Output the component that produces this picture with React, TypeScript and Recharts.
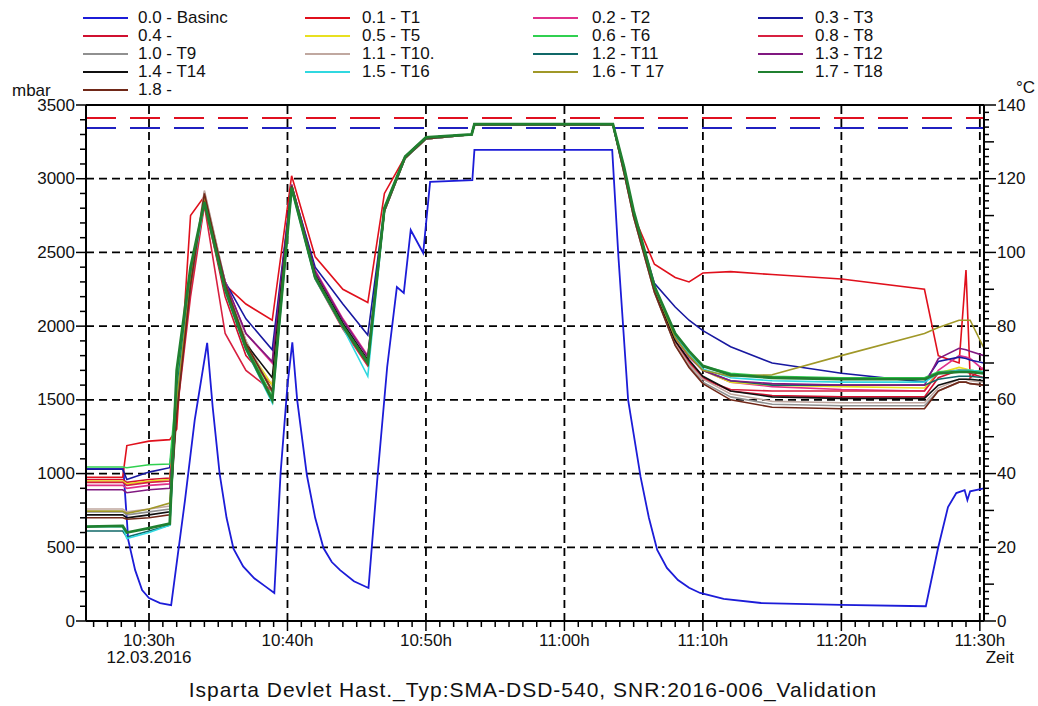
import { LineChart, Line, XAxis, YAxis, ReferenceLine } from "recharts";

// time in minutes after 10:00h
const TT = [25.45, 28.1, 28.4, 30.0, 31.5, 32.0, 33.0, 34.0, 35.5, 37.0, 38.9, 40.3, 42.0, 44.0, 45.8, 47.0, 48.5, 50.0, 53.3, 53.5, 63.5, 64.3, 65.0, 66.5, 68.0, 69.0, 70.0, 72.0, 75.0, 80.0, 86.0, 87.0, 88.5, 89.0, 89.3, 90.3];

// pressure has its own sample times
const P_T = [25.45, 28.15, 28.5, 29.0, 29.5, 30.0, 30.8, 31.6, 32.6, 33.3, 34.2, 34.6, 35.1, 35.6, 36.1, 36.8, 37.6, 38.4, 39.05, 39.5, 40.0, 40.35, 40.7, 41.4, 42.0, 42.6, 43.2, 43.8, 44.8, 45.85, 46.5, 47.2, 47.9, 48.4, 48.9, 49.8, 50.3, 53.35, 53.5, 63.45, 63.9, 64.6, 65.5, 66.1, 66.7, 67.4, 68.2, 69.0, 69.8, 71.5, 74.2, 80.0, 86.1, 87.0, 87.7, 88.3, 88.9, 89.1, 89.3, 90.3];
const BASINC = [1030, 1030, 550, 345, 210, 156, 122, 108, 820, 1363, 1886, 1450, 1000, 700, 490, 370, 290, 235, 190, 1000, 1600, 1890, 1500, 990, 700, 495, 400, 345, 270, 224, 977, 1723, 2265, 2225, 2652, 2496, 2978, 2990, 3195, 3195, 2469, 1499, 977, 700, 482, 360, 278, 225, 190, 150, 122, 110, 100, 502, 773, 868, 888, 820, 880, 900];

// temperatures, in mbar scale units (1 °C = 25 mbar)
const T1 = [975, 975, 1190, 1220, 1230, 1300, 2750, 2880, 2280, 2150, 2040, 3020, 2470, 2250, 2160, 2900, 3150, 3280, 3300, 3370, 3370, 3080, 2750, 2420, 2330, 2300, 2360, 2370, 2350, 2320, 2250, 1800, 1750, 2380, 1650, 1720];
const T2 = [920, 920, 900, 920, 930, 1500, 2300, 2860, 2300, 1950, 1750, 2960, 2380, 2050, 1800, 2780, 3140, 3270, 3300, 3365, 3365, 3060, 2760, 2260, 1920, 1790, 1700, 1620, 1590, 1570, 1560, 1700, 1800, 1790, 1780, 1700];
const T3 = [1030, 1030, 960, 1010, 1040, 1500, 2300, 2850, 2300, 2050, 1840, 2950, 2400, 2150, 1940, 2800, 3150, 3280, 3300, 3370, 3370, 3070, 2760, 2290, 2130, 2040, 1970, 1860, 1750, 1680, 1620, 1760, 1790, 1780, 1770, 1750];
const T4 = [960, 960, 940, 960, 970, 1450, 2250, 2840, 2200, 1800, 1600, 2940, 2330, 1990, 1740, 2780, 3140, 3270, 3300, 3365, 3365, 3050, 2750, 2250, 1900, 1760, 1650, 1560, 1530, 1520, 1520, 1650, 1700, 1690, 1680, 1650];
const T5 = [950, 950, 930, 950, 960, 1450, 2250, 2830, 2250, 1870, 1600, 2940, 2330, 2000, 1760, 2780, 3140, 3270, 3300, 3365, 3365, 3050, 2750, 2260, 1930, 1800, 1700, 1620, 1600, 1590, 1580, 1680, 1720, 1710, 1700, 1690];
const T6 = [1045, 1045, 1040, 1060, 1065, 1600, 2350, 2860, 2260, 1870, 1520, 2950, 2340, 2010, 1760, 2800, 3150, 3280, 3300, 3370, 3370, 3070, 2760, 2270, 1950, 1830, 1730, 1680, 1660, 1650, 1650, 1690, 1700, 1700, 1700, 1690];
const T8 = [940, 940, 920, 940, 950, 1400, 2200, 2820, 1950, 1700, 1560, 2950, 2320, 1980, 1730, 2790, 3140, 3270, 3300, 3365, 3365, 3050, 2750, 2240, 1880, 1750, 1640, 1570, 1560, 1560, 1560, 1680, 1700, 1700, 1690, 1680];
const T9 = [740, 740, 720, 740, 760, 1450, 2300, 2910, 2300, 1900, 1550, 2960, 2340, 2000, 1760, 2780, 3140, 3270, 3300, 3365, 3365, 3040, 2740, 2230, 1870, 1730, 1620, 1520, 1470, 1460, 1460, 1560, 1620, 1620, 1610, 1600];
const T10 = [760, 760, 740, 760, 780, 1450, 2300, 2920, 2300, 1900, 1560, 2960, 2340, 2000, 1760, 2780, 3140, 3270, 3300, 3365, 3365, 3040, 2740, 2230, 1880, 1740, 1640, 1540, 1490, 1480, 1480, 1580, 1640, 1640, 1630, 1620];
const T11 = [610, 610, 570, 610, 650, 1550, 2350, 2850, 2250, 1860, 1490, 2940, 2330, 2000, 1750, 2790, 3150, 3280, 3300, 3370, 3370, 3060, 2760, 2260, 1930, 1800, 1700, 1630, 1600, 1600, 1600, 1640, 1660, 1660, 1660, 1650];
const T12 = [890, 890, 870, 890, 900, 1450, 2280, 2860, 2300, 1950, 1760, 2960, 2370, 2040, 1790, 2790, 3150, 3280, 3300, 3370, 3370, 3060, 2760, 2260, 1930, 1800, 1700, 1630, 1610, 1600, 1600, 1780, 1850, 1840, 1830, 1800];
const T14 = [720, 720, 700, 720, 740, 1450, 2300, 2870, 2280, 1880, 1650, 2950, 2350, 2020, 1770, 2790, 3150, 3280, 3300, 3370, 3370, 3060, 2760, 2250, 1900, 1770, 1660, 1560, 1520, 1510, 1510, 1600, 1640, 1640, 1640, 1630];
const T16 = [640, 640, 560, 600, 650, 1500, 2300, 2840, 2240, 1840, 1480, 2930, 2320, 1990, 1660, 2780, 3140, 3270, 3300, 3365, 3365, 3050, 2760, 2260, 1940, 1810, 1710, 1650, 1630, 1620, 1620, 1680, 1700, 1700, 1700, 1690];
const T17 = [745, 745, 730, 760, 800, 1500, 2300, 2880, 2280, 1880, 1560, 2950, 2340, 2000, 1760, 2790, 3150, 3280, 3300, 3370, 3370, 3060, 2760, 2260, 1920, 1800, 1700, 1660, 1670, 1800, 1950, 1990, 2040, 2040, 2040, 1850];
const T18 = [640, 645, 600, 630, 660, 1700, 2400, 2840, 2250, 1850, 1500, 2940, 2330, 2000, 1750, 2800, 3150, 3280, 3300, 3370, 3370, 3080, 2780, 2270, 1950, 1830, 1730, 1670, 1650, 1640, 1640, 1680, 1690, 1690, 1690, 1680];
const T19 = [700, 700, 690, 700, 720, 1400, 2280, 2900, 2280, 1880, 1560, 2950, 2340, 2000, 1760, 2780, 3140, 3270, 3300, 3365, 3365, 3040, 2740, 2230, 1870, 1720, 1610, 1500, 1450, 1440, 1440, 1560, 1620, 1620, 1610, 1600];

const NAMES = ["0.0 - Basinc", "0.1 - T1", "0.2 - T2", "0.3 - T3", "0.4 -", "0.5 - T5", "0.6 - T6", "0.8 - T8", "1.0 - T9", "1.1 - T10.", "1.2 - T11", "1.3 - T12", "1.4 - T14", "1.5 - T16", "1.6 - T 17", "1.7 - T18", "1.8 -"];
const COLORS = ["#1c1cd8", "#e0101c", "#e0308c", "#1818a0", "#d01030", "#e8e020", "#30d050", "#d82040", "#909090", "#c0a8a0", "#106868", "#801880", "#101010", "#30d8e0", "#a09828", "#208030", "#702818"];
const TEMPS = [T1, T2, T3, T4, T5, T6, T8, T9, T10, T11, T12, T14, T16, T17, T18, T19];

const LIMIT_RED = 3412;
const LIMIT_BLUE = 3344;

const X_MAJOR = [30, 40, 50, 60, 70, 80, 90];
const X_TICKS = Array.from({ length: 65 }, (_, i) => 26 + i);
const Y_MAJOR = [500, 1000, 1500, 2000, 2500, 3000];
const Y_TICKS = Array.from({ length: 36 }, (_, i) => i * 100);
const C_TICKS = Array.from({ length: 71 }, (_, i) => i * 2);

const FONT = "'Liberation Sans', Arial, sans-serif";

const toData = (ts: number[], vs: number[]) => ts.map((t, i) => ({ t, v: vs[i] }));

const timeLabel = (m: number) => {
  const h = 10 + Math.floor(m / 60);
  const mm = m % 60;
  return `${h}:${mm < 10 ? "0" + mm : mm}h`;
};

function XTick(props: any) {
  const { x, y, payload } = props;
  const v = payload.value;
  const major = v % 10 === 0;
  return (
    <g>
      <line x1={x} x2={x} y1={y} y2={y + (major ? 10 : 6)} stroke="#000" strokeWidth={1.5} />
      {major && (
        <text x={x} y={y + 19} textAnchor="middle" dominantBaseline="central" fontSize={17} fontFamily={FONT} fill="#111">
          {timeLabel(v)}
        </text>
      )}
      {v === 30 && (
        <text x={x} y={y + 36} textAnchor="middle" dominantBaseline="central" fontSize={17} fontFamily={FONT} fill="#111">
          12.03.2016
        </text>
      )}
      {v === 90 && (
        <text x={x + 20} y={y + 36} textAnchor="middle" dominantBaseline="central" fontSize={17} fontFamily={FONT} fill="#111">
          Zeit
        </text>
      )}
    </g>
  );
}

function YTickLeft(props: any) {
  const { x, y, payload } = props;
  const v = payload.value;
  const major = v % 500 === 0;
  return (
    <g>
      <line x1={x - (major ? 10 : 6)} x2={x + 1} y1={y} y2={y} stroke="#000" strokeWidth={1.5} />
      {major && (
        <text x={x - 11} y={y} textAnchor="end" dominantBaseline="central" fontSize={17} fontFamily={FONT} fill="#111">
          {v}
        </text>
      )}
    </g>
  );
}

function YTickRight(props: any) {
  const { x, y, payload } = props;
  const v = payload.value;
  const len = v % 20 === 0 ? 12 : v % 10 === 0 ? 10 : 5;
  return (
    <g>
      <line x1={x} x2={x + len} y1={y} y2={y} stroke="#000" strokeWidth={1.5} />
      {v % 20 === 0 && (
        <text x={x + 13} y={y} textAnchor="start" dominantBaseline="central" fontSize={17} fontFamily={FONT} fill="#111">
          {v}
        </text>
      )}
    </g>
  );
}

const LEG_LINE_X = [83, 305, 533, 758];
const LEG_TEXT_X = [138, 362, 592, 815];
const LEG_ROW_Y = [18, 36, 54, 72, 90];

function Legend() {
  return (
    <>
      {NAMES.map((n, i) => {
        const c = i % 4;
        const r = Math.floor(i / 4);
        return (
          <div key={n}>
            <div style={{ position: "absolute", left: LEG_LINE_X[c], top: LEG_ROW_Y[r] - 1, width: 45, height: 2, background: COLORS[i] }} />
            <div style={{ position: "absolute", left: LEG_TEXT_X[c], top: LEG_ROW_Y[r] - 10, lineHeight: "20px", fontSize: 17, whiteSpace: "nowrap" }}>{n}</div>
          </div>
        );
      })}
    </>
  );
}

export default function App() {
  // dark green T18 drawn last, on top of the bundle
  const order = [0, 1, 2, 3, 4, 5, 6, 7, 8, 9, 10, 11, 12, 13, 15, 14];
  return (
    <div style={{ position: "absolute", left: 0, top: 0, width: 1038, height: 706, background: "#fff", fontFamily: FONT, color: "#111" }}>
      <LineChart width={1038} height={706} margin={{ top: 105, right: 0, bottom: 45, left: 0 }}>
        <XAxis
          type="number"
          dataKey="t"
          domain={[25.45, 90.3]}
          allowDataOverflow
          ticks={X_TICKS}
          interval={0}
          tick={XTick}
          tickLine={false}
          tickSize={0}
          tickMargin={0}
          axisLine={{ stroke: "#000", strokeWidth: 2 }}
          height={40}
        />
        <YAxis
          yAxisId="p"
          type="number"
          domain={[0, 3500]}
          allowDataOverflow
          ticks={Y_TICKS}
          interval={0}
          tick={YTickLeft}
          tickLine={false}
          tickSize={0}
          tickMargin={0}
          axisLine={{ stroke: "#000", strokeWidth: 2 }}
          width={86}
        />
        <YAxis
          yAxisId="c"
          orientation="right"
          type="number"
          domain={[0, 140]}
          allowDataOverflow
          ticks={C_TICKS}
          interval={0}
          tick={YTickRight}
          tickLine={false}
          tickSize={0}
          tickMargin={0}
          axisLine={{ stroke: "#000", strokeWidth: 2 }}
          width={54}
        />
        {Y_MAJOR.map((v) => (
          <ReferenceLine key={"gy" + v} yAxisId="p" y={v} stroke="#000" strokeWidth={1.8} strokeDasharray="8 5" />
        ))}
        {X_MAJOR.map((v) => (
          <ReferenceLine key={"gx" + v} yAxisId="p" x={v} stroke="#000" strokeWidth={1.8} strokeDasharray="8 5" />
        ))}
        <ReferenceLine yAxisId="p" y={3500} stroke="#000" strokeWidth={2} />
        <ReferenceLine yAxisId="p" y={LIMIT_RED} stroke="#e01020" strokeWidth={2} strokeDasharray="30 14" />
        <ReferenceLine yAxisId="p" y={LIMIT_BLUE} stroke="#2020c0" strokeWidth={2} strokeDasharray="30 14" />
        <Line
          yAxisId="p"
          data={toData(P_T, BASINC)}
          dataKey="v"
          type="linear"
          stroke={COLORS[0]}
          strokeWidth={1.8}
          dot={false}
          isAnimationActive={false}
        />
        {order.map((k) => (
          <Line
            key={NAMES[k + 1]}
            yAxisId="p"
            data={toData(TT, TEMPS[k])}
            dataKey="v"
            type="linear"
            stroke={COLORS[k + 1]}
            strokeWidth={k === 14 ? 2.8 : 1.6}
            dot={false}
            isAnimationActive={false}
          />
        ))}
      </LineChart>
      <Legend />
      <div style={{ position: "absolute", left: 12, top: 81, lineHeight: "20px", fontSize: 17 }}>mbar</div>
      <div style={{ position: "absolute", left: 1016, top: 78, lineHeight: "20px", fontSize: 17 }}>°C</div>
      <div style={{ position: "absolute", left: 0, width: 1066, top: 678, lineHeight: "24px", fontSize: 21, letterSpacing: 1, textAlign: "center", whiteSpace: "nowrap" }}>
        Isparta Devlet Hast._Typ:SMA-DSD-540, SNR:2016-006_Validation
      </div>
    </div>
  );
}
